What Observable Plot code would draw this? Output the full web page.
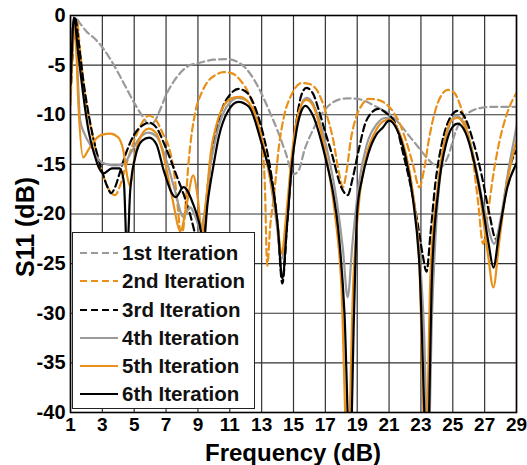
<!DOCTYPE html>
<html>
<head>
<meta charset="utf-8">
<script src="https://cdn.jsdelivr.net/npm/d3@7"></script>
<script src="https://cdn.jsdelivr.net/npm/@observablehq/plot@0.6"></script>
<style>
  html, body { margin: 0; padding: 0; background: #fff; }
  #wrap { position: relative; width: 527px; height: 465px; font-family: "Liberation Sans", Arial, sans-serif; }
  #legend { position: absolute; left: 72px; top: 232px; width: 183px; height: 177px; background: #fff; border: 1.5px solid #222; box-sizing: border-box; }
  .row { position: absolute; left: 0; height: 28px; display: flex; align-items: center; font-weight: bold; font-size: 20.5px; color: #111; white-space: nowrap; }
  .row svg { margin-left: 7px; margin-right: 4px; }
</style>
</head>
<body>
<div id="wrap"><div id="chart"></div><div id="legend"></div></div>
<script>
const xTicks = [1,3,5,7,9,11,13,15,17,19,21,23,25,27,29];
const yTicks = [0,-5,-10,-15,-20,-25,-30,-35,-40];
const names = ["1st Iteration","2nd Iteration","3rd Iteration","4th Iteration","5th Iteration","6th Iteration"];
const colors = ["#9a9a9a","#e8901a","#000000","#9a9a9a","#e8901a","#000000"];
const dashes = ["7,4","7,4","7,4",null,null,null];

const iter1 = [[1,-2],[1.3,-0.2],[1.6,-0.8],[2,-1.6],[2.5,-2.3],[3,-3.2],[3.5,-4.4],[4,-5.8],[4.5,-7.3],[5,-8.8],[5.5,-10.1],[5.9,-10.9],[6.2,-10.8],[6.6,-9.6],[7,-8.0],[7.5,-6.6],[8,-5.6],[8.5,-5.0],[9,-4.8],[9.5,-4.6],[10,-4.45],[10.8,-4.4],[11.5,-4.7],[12,-5.3],[12.5,-6.4],[13,-7.9],[13.5,-9.7],[14,-11.6],[14.5,-13.8],[15,-16],[15.3,-15.7],[15.7,-13.5],[16.2,-11.6],[16.7,-10.1],[17.2,-9.1],[17.8,-8.5],[18.4,-8.35],[19,-8.4],[19.6,-8.7],[20.2,-9.2],[20.8,-9.7],[21.3,-10.3],[21.8,-11.2],[22.3,-12.2],[22.8,-13.2],[23.3,-14.2],[23.8,-15.0],[24.3,-15.2],[24.7,-14.2],[25.2,-11.6],[25.7,-10.2],[26.2,-9.6],[26.8,-9.3],[27.5,-9.2],[28.2,-9.2],[29,-9.2]];

const iter2 = [[1,-9],[1.1,-5],[1.25,-1],[1.4,-0.5],[1.6,-3.5],[1.9,-8],[2.3,-11.5],[2.7,-14.2],[3.1,-16.3],[3.5,-17.8],[3.8,-18.1],[4.1,-17.2],[4.5,-15.0],[5,-12.6],[5.5,-10.8],[5.9,-10.1],[6.3,-10.4],[6.8,-11.9],[7.2,-13.4],[7.5,-15.8],[7.75,-19.5],[7.95,-22.5],[8.15,-20.5],[8.4,-15],[8.85,-9.6],[9.2,-7.9],[9.6,-6.7],[10.1,-6.0],[10.6,-5.7],[11.1,-5.8],[11.7,-6.6],[12.2,-7.9],[12.6,-9.8],[13.0,-12.6],[13.2,-17],[13.35,-25.2],[13.55,-21],[13.75,-18.5],[14.1,-13],[14.4,-10.2],[14.9,-7.9],[15.5,-6.8],[16,-6.9],[16.5,-7.6],[17,-9.6],[17.5,-12.6],[17.85,-15.8],[18.1,-17.3],[18.35,-15.5],[18.6,-12.5],[18.9,-10.4],[19.3,-9.0],[19.7,-8.4],[20.3,-8.5],[20.8,-8.9],[21.3,-9.8],[21.7,-11],[22.1,-12.8],[22.5,-15],[22.9,-17.3],[23.2,-15.5],[23.5,-12.5],[23.9,-9.6],[24.3,-8.0],[24.7,-7.5],[25.1,-7.8],[25.5,-9.2],[25.9,-11.5],[26.3,-15],[26.6,-19],[26.9,-23],[27.2,-20],[27.5,-16.5],[27.9,-12.9],[28.4,-9.9],[29,-7.8]];

const iter3 = [[1,-8],[1.15,-3],[1.3,-0.3],[1.5,-2.5],[1.8,-6.5],[2.2,-10.5],[2.6,-13.5],[3.0,-15.8],[3.3,-17.2],[3.55,-17.9],[3.8,-17.3],[4.1,-15.8],[4.5,-13.8],[5,-12],[5.5,-11.1],[5.95,-10.8],[6.4,-11.3],[6.9,-13],[7.3,-14.6],[7.7,-16.3],[8.1,-18],[8.5,-20],[8.9,-22.5],[9.15,-24],[9.4,-21],[9.7,-16],[10.1,-12],[10.5,-9.5],[11,-8],[11.55,-7.4],[12.1,-7.8],[12.6,-9.3],[13.1,-12],[13.6,-16],[14.0,-21],[14.3,-27],[14.6,-21],[14.9,-15],[15.2,-10.5],[15.5,-8],[15.8,-7.3],[16.2,-7.8],[16.6,-9.6],[17.0,-11.8],[17.4,-13.9],[18.0,-17.3],[18.4,-18.1],[18.7,-16.5],[19.1,-13.5],[19.5,-10.9],[19.9,-9.8],[20.3,-9.4],[20.8,-9.8],[21.4,-10.9],[21.9,-14],[22.4,-17.5],[22.8,-21],[23.1,-24],[23.35,-25.8],[23.6,-22],[23.9,-17],[24.3,-13],[24.8,-10.4],[25.3,-9.6],[25.8,-10.4],[26.3,-12.8],[26.8,-16],[27.3,-20],[27.7,-22.5],[28.0,-21],[28.5,-15.8],[29,-13.6]];

const iter4 = [[1,-7],[1.15,-3],[1.3,-1],[1.45,-6],[1.6,-10.5],[1.9,-12],[2.3,-13.2],[2.8,-14.6],[3.3,-15.0],[3.8,-15.1],[4.3,-15.0],[4.8,-13.8],[5.3,-12.4],[5.9,-11.8],[6.4,-12.2],[6.9,-14],[7.5,-17.3],[8.1,-20.3],[8.5,-19.3],[8.85,-20.3],[9.15,-21.5],[9.4,-20],[9.7,-16],[10.1,-12.5],[10.6,-9.8],[11.0,-8.8],[11.5,-8.3],[12.0,-8.5],[12.5,-9.8],[13.0,-12.5],[13.5,-16.2],[13.9,-20.5],[14.25,-24.5],[14.6,-20],[14.9,-15],[15.2,-11.2],[15.6,-8.6],[15.8,-8.3],[16.2,-8.8],[16.7,-11],[17.2,-14.2],[17.7,-18.5],[18.1,-23.5],[18.4,-28.4],[18.7,-23],[19.1,-17],[19.6,-13],[20.2,-11],[20.8,-10.3],[21.3,-10.8],[21.8,-12.6],[22.3,-16],[22.8,-22],[23.2,-32],[23.45,-45],[23.7,-30],[24.0,-20],[24.4,-14],[24.8,-11],[25.2,-10.1],[25.6,-10.6],[26.1,-12.8],[26.6,-16.5],[27.1,-20.5],[27.6,-23],[28.0,-20.5],[28.5,-15.5],[29,-11.2]];

const iter5 = [[1,-8.5],[1.1,-4],[1.22,-0.8],[1.35,-3],[1.5,-9],[1.8,-14.3],[2.1,-13.6],[2.5,-12.6],[3.0,-12.0],[3.5,-11.9],[4.0,-12.3],[4.3,-13.5],[4.6,-16.5],[4.75,-17.2],[5.0,-14.5],[5.3,-12.6],[5.9,-11.4],[6.4,-11.9],[6.9,-14.5],[7.4,-18.5],[7.9,-21.7],[8.3,-19],[8.7,-16.1],[9.0,-18.5],[9.25,-22],[9.5,-19],[9.8,-13.9],[10.2,-10.8],[10.7,-8.9],[11.2,-8.3],[11.6,-8.2],[12.1,-8.6],[12.6,-10.2],[13.1,-13],[13.6,-17],[14.0,-21],[14.25,-24],[14.55,-20],[14.9,-14],[15.2,-10.6],[15.6,-8.7],[15.8,-8.5],[16.2,-9],[16.7,-11.5],[17.2,-15.5],[17.6,-20],[18.0,-27],[18.4,-45],[18.75,-27],[19.1,-19],[19.6,-14],[20.2,-11.5],[20.7,-10.6],[21.0,-10.5],[21.5,-11.3],[22.0,-13.6],[22.5,-18],[22.9,-25],[23.3,-45],[23.6,-26],[24.0,-18],[24.5,-12.5],[24.9,-10.6],[25.3,-10.3],[25.7,-11],[26.2,-13.6],[26.7,-18],[27.2,-24],[27.55,-27.4],[27.9,-23],[28.4,-17],[29,-12.6]];

const iter6 = [[1,-7],[1.1,-3],[1.2,-0.2],[1.5,-4],[1.8,-8],[2.13,-11.6],[2.5,-14],[2.8,-15.4],[3.07,-15.9],[3.6,-15.4],[4.1,-15.4],[4.35,-16.8],[4.55,-24],[4.75,-17.6],[5.06,-14.3],[5.5,-12.6],[5.95,-12.3],[6.4,-13],[6.85,-15.6],[7.6,-18.3],[8.1,-17.3],[8.7,-19],[9.1,-21],[9.35,-23],[9.6,-19],[10,-14.9],[10.3,-12.3],[10.9,-9.6],[11.55,-8.7],[12.2,-9.2],[13.0,-12.9],[13.7,-17.3],[14.0,-21],[14.3,-26.5],[14.6,-21],[14.9,-15],[15.2,-11.5],[15.5,-9.6],[15.75,-9.1],[16.2,-10],[17.0,-14.3],[17.5,-18],[17.8,-21.4],[18.2,-30],[18.55,-45],[18.8,-30],[19.0,-19.7],[19.3,-16.5],[19.7,-13.9],[20.2,-12],[20.6,-11.3],[21.0,-10.6],[21.5,-11.5],[22.0,-14],[22.5,-18.5],[22.9,-25],[23.4,-45],[23.7,-26],[24.1,-17.5],[24.6,-12.8],[25.0,-11.2],[25.3,-10.9],[25.8,-11.8],[26.3,-14.5],[26.8,-18.5],[27.25,-23],[27.55,-25.4],[27.9,-22],[28.4,-17.5],[29,-14.9]];

const allSeries = [iter1, iter2, iter3, iter4, iter5, iter6];

const chart = Plot.plot({
  width: 527,
  height: 465,
  marginLeft: 70,
  marginRight: 11,
  marginTop: 15,
  marginBottom: 53,
  style: { fontFamily: "'Liberation Sans', Arial, sans-serif", fontSize: "20px", fontWeight: "bold", color: "#000", background: "#fff" },
  x: { domain: [1, 29], ticks: xTicks, tickFormat: d => String(d), label: null, tickSize: 0, tickPadding: 5 },
  y: { domain: [-40, 0], ticks: yTicks, tickFormat: d => String(d), label: null, tickSize: 0, tickPadding: 5 },
  marks: [
    Plot.gridX(xTicks, { stroke: "#333", strokeOpacity: 1, strokeWidth: 1.2 }),
    Plot.gridY(yTicks, { stroke: "#333", strokeOpacity: 1, strokeWidth: 1.2 }),
    ...allSeries.map((s, i) => Plot.line(s, {
      x: d => d[0], y: d => d[1],
      stroke: colors[i], strokeWidth: 2.2,
      strokeDasharray: dashes[i] || undefined,
      curve: "monotone-x", clip: true
    })),
    Plot.frame({ stroke: "#000", strokeWidth: 1.6 })
  ]
});
document.getElementById("chart").appendChild(chart);

const svg = d3.select(chart);
svg.selectAll('[aria-label="x-axis tick label"] text').style("font-size", "19px");
svg.append("text")
  .attr("x", 293).attr("y", 461)
  .attr("text-anchor", "middle")
  .style("font-size", "24px").style("font-weight", "bold").attr("fill", "#000")
  .text("Frequency (dB)");
svg.append("text")
  .attr("transform", "translate(34,227) rotate(-90)")
  .attr("text-anchor", "middle")
  .style("font-size", "25px").style("font-weight", "bold").attr("fill", "#000")
  .text("S11 (dB)");

const legend = document.getElementById("legend");
const rowCenters = [19.5, 48, 76.5, 104.5, 133, 161];
names.forEach((n, i) => {
  const row = document.createElement("div");
  row.className = "row";
  row.style.top = (rowCenters[i] - 14) + "px";
  row.innerHTML = `<svg width="38" height="6"><line x1="0" y1="3" x2="38" y2="3" stroke="${colors[i]}" stroke-width="2.2" ${dashes[i] ? `stroke-dasharray="${dashes[i]}"` : ""}/></svg><span>${n}</span>`;
  legend.appendChild(row);
});
</script>
</body>
</html>
